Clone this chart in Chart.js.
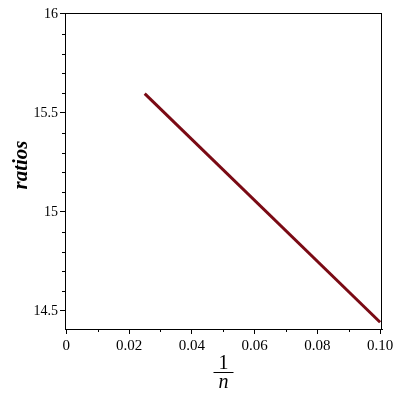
<!DOCTYPE html>
<html>
<head>
<meta charset="utf-8">
<script src="https://cdn.jsdelivr.net/npm/chart.js@4/dist/chart.umd.min.js"></script>
<style>
  html, body { margin: 0; padding: 0; background: #fff; }
  #wrap { width: 400px; height: 400px; }
</style>
</head>
<body>
<div id="wrap"><canvas id="ratioChart" width="400" height="400"></canvas></div>
<script>
// --- data ---
const invN = [0.025, 0.1];
const ratios = [15.598, 14.443];

const xMajor = [0, 0.02, 0.04, 0.06, 0.08, 0.10];
const xMinor = [0.01, 0.03, 0.05, 0.07, 0.09];
const yMajor = [14.5, 15, 15.5, 16];
const yMinor = [14.6, 14.7, 14.8, 14.9, 15.1, 15.2, 15.3, 15.4, 15.6, 15.7, 15.8, 15.9];

const serif = '"Liberation Serif", "Times New Roman", serif';

// frame, minor ticks and the axis titles (ratios, 1 over n)
const maplePlot = {
    id: 'maplePlot',
    afterDraw(chart) {
        const ctx = chart.ctx;
        const a = chart.chartArea;
        const xs = chart.scales.x, ys = chart.scales.y;
        ctx.save();
        ctx.strokeStyle = '#000';
        ctx.lineWidth = 1;
        ctx.strokeRect(a.left + 0.5, a.top + 0.5, a.right - a.left - 1, a.bottom - a.top);

        ctx.beginPath();
        xMinor.forEach(v => {
            const px = Math.round(xs.getPixelForValue(v)) + 0.5;
            ctx.moveTo(px, a.bottom);
            ctx.lineTo(px, a.bottom + 3);
        });
        yMinor.forEach(v => {
            const py = Math.round(ys.getPixelForValue(v)) + 0.5;
            ctx.moveTo(a.left, py);
            ctx.lineTo(a.left - 3, py);
        });
        ctx.stroke();

        ctx.fillStyle = '#000';
        ctx.textAlign = 'center';

        // y title
        ctx.save();
        ctx.translate(22, 165);
        ctx.rotate(-Math.PI / 2);
        ctx.textBaseline = 'middle';
        ctx.font = 'italic bold 21px ' + serif;
        ctx.fillText('ratios', 0, 0);
        ctx.restore();

        // x title: 1 over n
        const cx = (a.left + a.right) / 2;
        ctx.textBaseline = 'alphabetic';
        ctx.font = '20px ' + serif;
        ctx.fillText('1', cx, 369);
        ctx.fillRect(cx - 10, 372, 20, 1);
        ctx.font = 'italic 20px ' + serif;
        ctx.fillText('n', cx, 388);
        ctx.restore();
    }
};

new Chart(document.getElementById('ratioChart').getContext('2d'), {
    type: 'line',
    data: {
        labels: invN,
        datasets: [{
            data: invN.map((x, i) => ({ x: x, y: ratios[i] })),
            borderColor: '#7a0a14',
            borderWidth: 3,
            pointRadius: 0,
            fill: false,
            tension: 0
        }]
    },
    options: {
        responsive: false,
        animation: false,
        layout: { padding: { top: 13, right: 18, left: 0, bottom: 0 } },
        plugins: {
            legend: { display: false },
            tooltip: { enabled: false }
        },
        scales: {
            x: {
                type: 'linear',
                min: -0.0004,
                max: 0.1006,
                afterFit: s => { s.height = 71; },
                afterBuildTicks: s => { s.ticks = xMajor.map(v => ({ value: v })); },
                border: { display: true, color: '#000', width: 1 },
                grid: { drawOnChartArea: false, tickLength: 5, color: '#000' },
                ticks: {
                    color: '#000',
                    padding: 3,
                    maxRotation: 0,
                    autoSkip: false,
                    font: { family: serif, size: 15 },
                    callback: v => v === 0 ? '0' : v.toFixed(2)
                }
            },
            y: {
                min: 14.409,
                max: 16.005,
                afterFit: s => { s.width = 65; },
                afterBuildTicks: s => { s.ticks = yMajor.map(v => ({ value: v })); },
                border: { display: true, color: '#000', width: 1 },
                grid: { drawOnChartArea: false, tickLength: 5, color: '#000' },
                ticks: {
                    color: '#000',
                    padding: 2,
                    autoSkip: false,
                    font: { family: serif, size: 14 },
                    callback: v => String(v)
                }
            }
        }
    },
    plugins: [maplePlot]
});
</script>
</body>
</html>
